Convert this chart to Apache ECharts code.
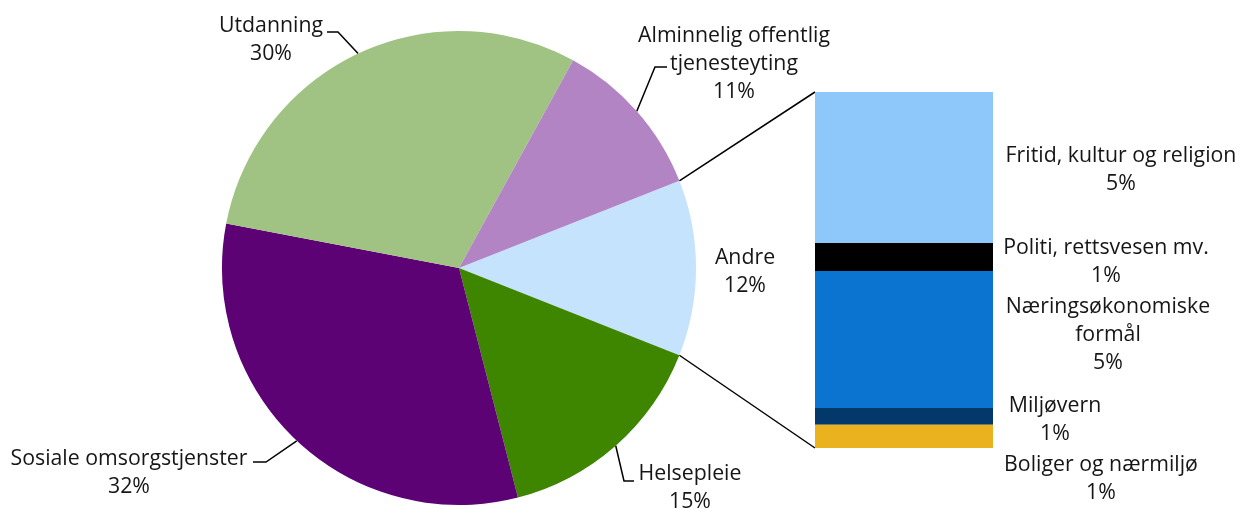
<!DOCTYPE html>
<html lang="no">
<head>
  <meta charset="UTF-8">
  <title>Utgifter etter formål</title>
  <script src="https://cdn.jsdelivr.net/npm/echarts@6/dist/echarts.min.js"></script>
  <style>
    html, body { margin: 0; padding: 0; background: #fff; }
  </style>
</head>
<body>
  <div id="chart" style="width: 1245px; height: 509px;"></div>
  <script>
    // pie: Andre first, then clockwise
    const categories = ['Andre', 'Helsepleie', 'Sosiale omsorgstjenster', 'Utdanning', 'Alminnelig offentlig\ntjenesteyting'];
    const shares = [12, 15, 32, 30, 11];
    const pieColors = ['#C5E3FC', '#3E8500', '#5C0275', '#A0C384', '#B384C4'];

    // breakdown of "Andre", top to bottom
    const andreParts = ['Fritid, kultur og religion', 'Politi, rettsvesen mv.', 'Næringsøkonomiske\nformål', 'Miljøvern', 'Boliger og nærmiljø'];
    const andreValues = [5.09, 0.94, 4.62, 0.57, 0.78];
    const andreColors = ['#8EC8FA', '#000000', '#0A74D0', '#03386A', '#EBB220'];

    // label placement
    const pieLabelAt = [[745, 272], [690, 488], [129, 473], [271, 40], [734, 64]];
    const pieLineEnd = [null, [[624, 481], [634, 481]], [[266, 462], [253, 462]], [[338, 32], [327, 32]], [[655, 67], [667, 67]]];
    const barLabelAt = [[1121, 170], [1106, 262], [1108, 335], [1055, 420], [1101, 479]];

    const cx = 459, cy = 268, r = 237;
    const total = shares.reduce((a, b) => a + b, 0);
    const half = shares[0] / total * Math.PI;
    const startAngle = shares[0] / total * 180;
    const andreTotal = andreValues.reduce((a, b) => a + b, 0);
    const bar = { left: 815, top: 92, width: 178, height: 356 };

    const font = { fontFamily: 'Open Sans', fontSize: 21.3, lineHeight: 28, color: '#161616' };

    const edgeTop = [cx + r * Math.cos(half), cy - r * Math.sin(half)];
    const edgeBot = [cx + r * Math.cos(half), cy + r * Math.sin(half)];

    const barSeries = andreParts.map((name, i) => ({
      name: name,
      type: 'bar',
      stack: 'andre',
      barWidth: '100%',
      data: [andreValues[i]],
      itemStyle: { color: andreColors[i] },
      label: Object.assign({
        show: true,
        formatter: p => p.seriesName + '\n' + Math.round(p.value) + '%'
      }, font),
      labelLayout: { x: barLabelAt[i][0], y: barLabelAt[i][1], align: 'center', verticalAlign: 'middle' },
      emphasis: { disabled: true }
    }));

    const option = {
      animation: false,
      grid: { left: bar.left, top: bar.top, width: bar.width, height: bar.height },
      xAxis: { type: 'category', data: [''], show: false },
      yAxis: { type: 'value', min: 0, max: andreTotal, inverse: true, show: false },
      series: [{
        type: 'pie',
        center: [cx, cy],
        radius: r,
        startAngle: startAngle,
        clockwise: true,
        data: categories.map((name, i) => ({
          name: name,
          value: shares[i],
          itemStyle: { color: pieColors[i] },
          labelLine: { show: pieLineEnd[i] !== null }
        })),
        label: Object.assign({
          position: 'outside',
          formatter: p => p.name + '\n' + Math.round(p.percent) + '%'
        }, font),
        labelLine: { show: true, lineStyle: { color: '#000', width: 1.5 } },
        labelLayout: function (p) {
          const i = p.dataIndex;
          const out = { x: pieLabelAt[i][0], y: pieLabelAt[i][1], align: 'center', verticalAlign: 'middle' };
          if (pieLineEnd[i] && p.labelLinePoints) {
            out.labelLinePoints = [p.labelLinePoints[0], pieLineEnd[i][0], pieLineEnd[i][1]];
          }
          return out;
        },
        emphasis: { disabled: true }
      }].concat(barSeries),
      graphic: [
        { type: 'polyline', shape: { points: [edgeTop, [bar.left, bar.top]] }, style: { stroke: '#000', lineWidth: 1.5, fill: null } },
        { type: 'polyline', shape: { points: [edgeBot, [bar.left, bar.top + bar.height]] }, style: { stroke: '#000', lineWidth: 1.5, fill: null } }
      ]
    };

    const chart = echarts.init(document.getElementById('chart'));
    chart.setOption(option);
  </script>
</body>
</html>
